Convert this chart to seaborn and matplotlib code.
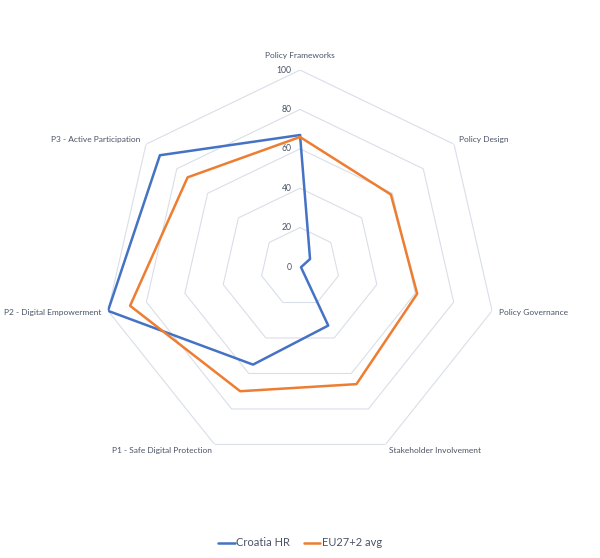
import numpy as np
import pandas as pd
import matplotlib
matplotlib.use("Agg")
import matplotlib.pyplot as plt
import seaborn as sns

categories = ["Policy Frameworks", "Policy Design", "Policy Governance",
              "Stakeholder Involvement", "P1 - Safe Digital Protection",
              "P2 - Digital Empowerment", "P3 - Active Participation"]
croatia = [67, 6.5, 0.5, 33, 55, 100, 91]
eu_avg = [66, 59, 61, 66, 70, 88.5, 73]
series_names = ["Croatia HR", "EU27+2 avg"]
r_ticks = [0, 20, 40, 60, 80, 100]

sns.set_theme(style="white")
plt.rcParams["font.family"] = ["Lato", "DejaVu Sans"]

n = len(categories)
angles = np.linspace(0, 2 * np.pi, n, endpoint=False)
closed = np.append(angles, 2 * np.pi)

rows = []
for name, vals in zip(series_names, [croatia, eu_avg]):
    for a, v in zip(closed, vals + vals[:1]):
        rows.append({"angle": a, "value": v, "series": name})
df = pd.DataFrame(rows)

fig = plt.figure(figsize=(6, 5.58), dpi=100)
ax = fig.add_axes([0.1717, 0.1685, 0.6567, 0.706], projection="polar")
ax.set_theta_zero_location("N")
ax.set_theta_direction(-1)
ax.set_ylim(0, 100)
ax.grid(False)
ax.spines["polar"].set_visible(False)
ax.set_xticks([])
ax.set_yticks([])

# heptagon grid
for lv in r_ticks[1:]:
    ax.plot(closed, [lv] * (n + 1), color="#D9DEE8", lw=0.8, zorder=1)

sns.lineplot(data=df, x="angle", y="value", hue="series", sort=False,
             palette=["#4472C4", "#ED7D31"], linewidth=1.8, ax=ax,
             estimator=None, legend=False, zorder=3)
ax.set_xlabel("")
ax.set_ylabel("")

txt_color = "#4A5466"
for lv in r_ticks:
    ax.annotate(str(lv), xy=(0, lv), xytext=(-6, 0), textcoords="offset points",
                ha="right", va="center", fontsize=6.2, color=txt_color)

for a, lab in zip(angles, categories):
    s, c = np.sin(a), np.cos(a)
    if abs(s) < 0.01:
        ha, off = "center", (0, 10.8)
    else:
        ha = "left" if s > 0 else "right"
        off = (5 * s, 5 * c)
    ax.annotate(lab, xy=(a, 100), xytext=off, textcoords="offset points",
                ha=ha, va="center", fontsize=6, color=txt_color)

handles = [plt.Line2D([], [], color=col, lw=1.8) for col in ["#4472C4", "#ED7D31"]]
fig.legend(handles, series_names, loc="center", bbox_to_anchor=(0.5, 1 - 543 / 558),
           ncol=2, frameon=False, fontsize=8, handlelength=1.5, handletextpad=0.15,
           columnspacing=1.2, labelcolor=txt_color)

fig.savefig("out.png", dpi=100)
